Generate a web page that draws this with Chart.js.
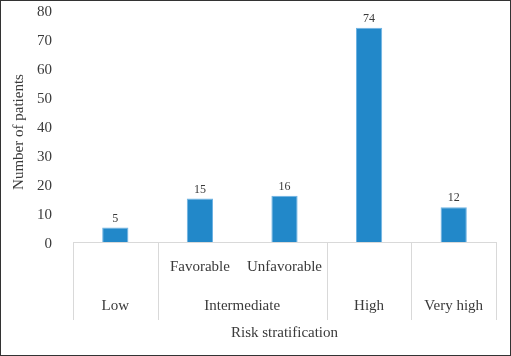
<!DOCTYPE html>
<html>
<head>
<meta charset="utf-8">
<script src="https://cdn.jsdelivr.net/npm/chart.js@4/dist/chart.umd.min.js"></script>
<style>
  html, body { margin: 0; padding: 0; background: #fff; }
  #wrap { position: relative; width: 511px; height: 356px; }
  #frame { position: absolute; left: 0; top: 0; width: 511px; height: 356px; box-sizing: border-box; border: 1px solid #333; pointer-events: none; }
  canvas { display: block; }
</style>
</head>
<body>
<div id="wrap">
  <canvas id="c" width="511" height="356"></canvas>
  <div id="frame"></div>
</div>
<script>
// ---- data ----
const categories = ['Low', 'Favorable', 'Unfavorable', 'High', 'Very high'];
const subLabels = ['', 'Favorable', 'Unfavorable', '', ''];
const groupLabels = ['Low', 'Intermediate', 'High', 'Very high'];
const groupSpans = [1, 2, 1, 1];
const values = [5, 15, 16, 74, 12];
const yTickValues = [0, 10, 20, 30, 40, 50, 60, 70, 80];
const xTitle = 'Risk stratification';
const yTitle = 'Number of patients';

const FONT = '"Liberation Serif", "Times New Roman", serif';
const TEXT = '#3a3a3a';
const LINE = '#d9d9d9';

const groupPlugin = {
  id: 'groupPlugin',
  afterDraw(chart) {
    const ctx = chart.ctx;
    const xs = chart.scales.x;
    const top = chart.chartArea.bottom;
    const step = xs.getPixelForValue(1) - xs.getPixelForValue(0);
    const edge = i => xs.getPixelForValue(i) - step / 2;
    ctx.save();
    ctx.strokeStyle = LINE;
    ctx.lineWidth = 1;
    let idx = 0;
    const bounds = [0];
    groupSpans.forEach(s => { idx += s; bounds.push(idx); });
    bounds.forEach(b => {
      const x = Math.round(edge(b)) + 0.5;
      ctx.beginPath();
      ctx.moveTo(x, top);
      ctx.lineTo(x, top + 78);
      ctx.stroke();
    });
    ctx.fillStyle = TEXT;
    ctx.font = '15px ' + FONT;
    ctx.textAlign = 'center';
    ctx.textBaseline = 'middle';
    let start = 0;
    groupLabels.forEach((g, k) => {
      const end = start + groupSpans[k];
      const cx = (edge(start) + edge(end)) / 2;
      ctx.fillText(g, cx, 306);
      start = end;
    });
    subLabels.forEach((s, i) => {
      if (s) ctx.fillText(s, xs.getPixelForValue(i), 267);
    });
    // y axis title
    ctx.save();
    ctx.translate(19, 132);
    ctx.rotate(-Math.PI / 2);
    ctx.fillText(yTitle, 0, 0);
    ctx.restore();
    // data labels
    ctx.font = '12px ' + FONT;
    ctx.textBaseline = 'alphabetic';
    const meta = chart.getDatasetMeta(0);
    meta.data.forEach((bar, i) => {
      ctx.fillText(String(values[i]), bar.x, bar.y - 6);
    });
    ctx.restore();
  }
};

new Chart(document.getElementById('c'), {
  type: 'bar',
  data: {
    labels: categories,
    datasets: [{
      data: values,
      backgroundColor: '#2288c9',
      borderColor: '#6fb3e3',
      borderWidth: 1,
      barPercentage: 0.31,
      categoryPercentage: 1
    }]
  },
  options: {
    responsive: false,
    animation: false,
    devicePixelRatio: 1,
    layout: { padding: { top: 10.5, right: 15, bottom: 0, left: 0 } },
    plugins: { legend: { display: false }, tooltip: { enabled: false } },
    scales: {
      x: {
        offset: true,
        grid: { display: false },
        border: { display: true, color: LINE, width: 1 },
        ticks: { display: false },
        title: {
          display: true, text: xTitle, color: TEXT,
          font: { family: FONT, size: 15 },
          padding: { top: 0, bottom: 14 }
        },
        afterFit(scale) { scale.height = 114; scale.paddingLeft = 0; scale.paddingRight = 0; }
      },
      y: {
        min: 0, max: 80,
        afterBuildTicks(scale) { scale.ticks = yTickValues.map(v => ({ value: v })); },
        grid: { display: false },
        border: { display: false },
        ticks: {
          color: TEXT, padding: 13, labelOffset: 2,
          font: { family: FONT, size: 15 }
        },
        title: { display: false },
        afterFit(scale) { scale.width = 73; scale.paddingTop = 0; scale.paddingBottom = 0; }
      }
    }
  },
  plugins: [groupPlugin]
});
</script>
</body>
</html>
